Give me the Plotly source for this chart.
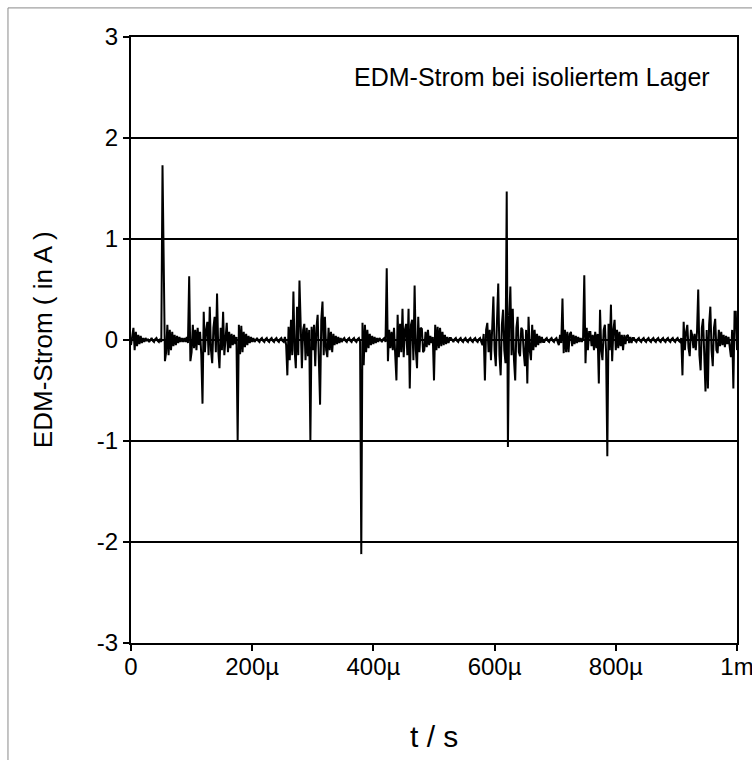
import plotly.graph_objects as go

# Oscilloscope record: sample interval 2 µs, starting at t = 0
t_start_us = 0.0
dt_us = 2.0

# EDM current in A, one row per 50 µs (25 samples)
current_A = [
    -0.05, 0.05, 0.12, -0.10, 0.08, -0.06, 0.05, -0.04, 0.04, -0.03, 0.02, -0.02, 0.02, -0.01, 0.01, -0.02, 0.01, 0.02, -0.01, -0.02, 0.01, 0.02, -0.01, -0.02, 0.01,
    -0.02, 1.73, 0.86, -0.21, -0.12, 0.15, -0.15, 0.10, -0.10, 0.08, -0.06, 0.05, -0.05, 0.04, -0.03, 0.03, -0.02, 0.02, -0.02, 0.02, -0.02, 0.03, -0.03, 0.63, -0.21,
    -0.12, 0.15, -0.08, 0.10, -0.10, 0.12, -0.05, 0.08, -0.15, -0.63, 0.28, -0.12, 0.10, 0.18, -0.15, 0.33, -0.10, -0.23, 0.12, 0.23, -0.12, 0.46, -0.10, -0.28, 0.12,
    -0.10, 0.28, -0.15, 0.08, 0.17, -0.12, 0.08, -0.08, 0.06, -0.05, 0.05, -0.04, 0.03, -1.00, 0.15, -0.14, 0.14, -0.12, 0.08, -0.07, 0.06, -0.05, 0.04, -0.03, 0.03,
    -0.02, 0.02, -0.02, 0.01, 0.02, -0.01, -0.02, 0.01, 0.02, -0.01, -0.02, 0.01, 0.02, -0.01, -0.02, 0.01, 0.02, -0.01, -0.02, 0.01, 0.02, -0.01, -0.02, 0.01, 0.02,
    -0.01, -0.02, 0.03, -0.05, -0.35, 0.13, -0.20, 0.20, -0.15, 0.48, -0.10, -0.28, 0.33, -0.15, 0.59, 0.20, -0.28, 0.10, 0.16, -0.20, 0.12, -0.16, 0.10, -1.00, 0.13,
    -0.10, 0.15, -0.26, 0.12, 0.25, -0.15, -0.64, 0.20, 0.38, -0.15, 0.23, -0.10, -0.17, 0.12, -0.10, 0.08, -0.12, 0.06, -0.05, 0.04, -0.04, 0.03, -0.03, 0.02, -0.02,
    0.01, 0.02, -0.01, -0.02, 0.01, 0.02, -0.01, -0.02, 0.01, 0.02, -0.01, -0.02, 0.01, 0.02, -0.02, -2.12, 0.17, -0.25, 0.15, -0.12, 0.10, -0.08, 0.06, -0.05, 0.04,
    -0.04, 0.03, -0.03, 0.02, -0.02, 0.02, -0.01, -0.02, 0.01, 0.02, -0.02, 0.71, -0.21, 0.10, -0.08, 0.08, -0.10, 0.12, -0.15, -0.40, 0.25, -0.17, 0.16, -0.12, 0.31,
    -0.17, 0.10, 0.16, -0.15, 0.31, -0.48, 0.15, 0.20, -0.20, 0.54, -0.10, -0.28, 0.23, -0.12, 0.12, 0.11, -0.12, -0.10, 0.08, -0.07, 0.10, -0.05, 0.04, -0.03, 0.03,
    -0.40, 0.15, -0.10, 0.13, -0.08, 0.12, -0.06, 0.08, -0.05, 0.05, -0.04, 0.03, -0.03, 0.02, 0.02, -0.01, -0.02, 0.01, 0.02, -0.01, -0.02, 0.01, 0.02, -0.01, -0.02,
    0.01, 0.02, -0.01, -0.02, 0.01, 0.02, -0.01, -0.02, 0.01, 0.02, -0.01, -0.02, 0.01, 0.02, -0.02, -0.05, 0.06, -0.40, 0.10, 0.17, -0.12, 0.10, -0.20, 0.15, 0.43,
    -0.10, -0.26, 0.20, 0.56, -0.15, -0.35, 0.15, 0.30, -0.10, -0.23, 1.47, -1.06, 0.20, 0.53, -0.15, 0.31, -0.20, -0.40, 0.12, 0.23, -0.12, -0.16, 0.12, 0.10, -0.12,
    -0.26, 0.10, -0.43, 0.23, -0.10, -0.20, 0.15, -0.10, 0.10, -0.07, 0.06, -0.05, 0.04, -0.03, 0.03, -0.02, -0.02, 0.01, 0.02, -0.01, -0.02, 0.01, 0.02, -0.01, -0.02,
    0.01, 0.02, -0.02, -0.05, 0.05, -0.03, 0.41, -0.13, 0.10, -0.12, 0.08, -0.12, 0.06, 0.08, -0.06, 0.05, -0.04, 0.04, -0.03, 0.03, -0.02, 0.02, -0.02, 0.02, 0.64,
    -0.23, 0.12, -0.10, 0.08, 0.08, -0.06, 0.05, -0.10, 0.08, -0.08, 0.06, -0.43, 0.30, -0.10, -0.20, 0.10, 0.15, -0.12, -1.15, 0.16, -0.10, 0.35, -0.21, 0.10, 0.20,
    -0.10, 0.10, -0.08, 0.08, -0.06, 0.05, -0.10, 0.05, -0.04, 0.04, 0.05, -0.03, 0.03, -0.03, 0.02, 0.02, -0.01, -0.02, 0.01, 0.02, -0.01, -0.02, 0.01, 0.02, -0.01,
    -0.02, 0.01, 0.02, -0.01, -0.02, 0.01, 0.02, -0.01, -0.02, 0.01, 0.02, -0.01, -0.02, 0.01, 0.02, -0.01, -0.02, 0.01, 0.02, -0.01, -0.02, 0.01, 0.02, -0.01, -0.02,
    0.01, 0.02, -0.01, -0.02, 0.02, -0.35, 0.18, -0.10, 0.08, 0.15, -0.08, -0.16, 0.10, 0.05, -0.08, 0.06, -0.10, 0.08, 0.50, -0.15, -0.30, 0.12, 0.21, -0.15, -0.51,
    0.10, -0.48, 0.15, 0.33, -0.10, -0.26, 0.12, 0.21, -0.10, -0.13, 0.10, -0.06, 0.08, -0.05, 0.05, -0.07, 0.04, -0.04, 0.03, -0.05, -0.17, 0.10, -0.48, 0.28, 0.28,
    -0.10,
]

x_tick_vals_us = [0, 200, 400, 600, 800, 1000]
x_tick_text = ["0", "200µ", "400µ", "600µ", "800µ", "1m"]
y_tick_vals = [-3, -2, -1, 0, 1, 2, 3]
y_tick_text = ["-3", "-2", "-1", "0", "1", "2", "3"]

title_text = "EDM-Strom bei isoliertem Lager"
x_title = "t / s"
y_title = "EDM-Strom ( in A )"

time_us = [t_start_us + dt_us * k for k in range(len(current_A))]

FONT = "Arial, 'Liberation Sans', sans-serif"

fig = go.Figure()
fig.add_trace(go.Scatter(
    x=time_us, y=current_A, mode="lines",
    line=dict(color="black", width=2),
    hoverinfo="skip", showlegend=False,
))

fig.update_layout(
    width=752, height=760,
    margin=dict(l=131, r=15, t=37, b=117, autoexpand=False),
    paper_bgcolor="white", plot_bgcolor="white",
    font=dict(family=FONT, color="black", size=24),
    xaxis=dict(
        range=[0, 1000], tickvals=x_tick_vals_us, ticktext=x_tick_text,
        ticks="outside", ticklen=6, tickwidth=2, tickcolor="black",
        showline=True, linecolor="black", linewidth=2, mirror=True,
        showgrid=False, zeroline=False, ticklabeloverflow="allow",
        automargin=False, ticklabelstandoff=-5,
        tickfont=dict(size=24, family=FONT, color="black"),
    ),
    yaxis=dict(
        range=[-3, 3], tickvals=y_tick_vals, ticktext=y_tick_text,
        ticks="outside", ticklen=6, tickwidth=2, tickcolor="black",
        showline=True, linecolor="black", linewidth=2, mirror=True,
        showgrid=True, gridcolor="black", gridwidth=2, zeroline=False,
        automargin=False,
        tickfont=dict(size=24, family=FONT, color="black"),
    ),
    annotations=[
        dict(text=title_text, xref="paper", yref="paper", x=0.959, y=0.934,
             xanchor="right", yanchor="middle", showarrow=False,
             font=dict(size=25, family=FONT, color="black")),
        dict(text=x_title, xref="paper", yref="paper", x=0.5, y=-0.155,
             xanchor="center", yanchor="middle", showarrow=False,
             font=dict(size=30, family=FONT, color="black")),
        dict(text=y_title, xref="paper", yref="paper", x=-0.145, y=0.5,
             xanchor="center", yanchor="middle", showarrow=False, textangle=-90,
             font=dict(size=26, family=FONT, color="black")),
    ],
    shapes=[
        dict(type="rect", xref="paper", yref="paper",
             x0=-0.203, y0=-0.3, x1=1.1, y1=1.048,
             line=dict(color="#8a8a8a", width=1), layer="below"),
    ],
)

fig.write_html("out.html")
